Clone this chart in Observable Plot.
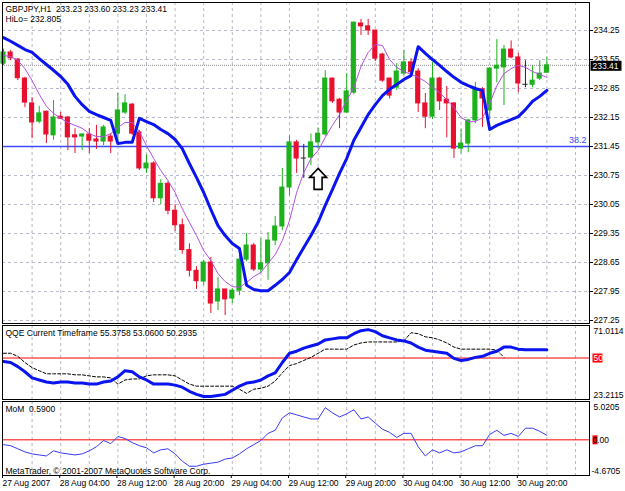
<!DOCTYPE html>
<html><head><meta charset="utf-8">
<script src="https://cdn.jsdelivr.net/npm/d3@7"></script>
<script src="https://cdn.jsdelivr.net/npm/@observablehq/plot@0.6"></script>
<style>
body{margin:0;background:#fff;}
#chart{position:relative;width:625px;height:491px;overflow:hidden;background:#fff;}
#chart svg{position:absolute;left:0;overflow:visible;}
</style></head><body><div id="chart"></div>
<script>
// ---------- data ----------
const symbol = "GBPJPY,H1";
const hiloLabel = "HiLo= 232.805";
const qqeLabel = "QQE Current Timeframe 55.3758 53.0600 50.2935";
const momLabel = "MoM  0.5900";
const copyright = "MetaTrader, \u00a9 2001-2007 MetaQuotes Software Corp.";
const timeLabels = ["27 Aug 2007","28 Aug 04:00","28 Aug 12:00","28 Aug 20:00","29 Aug 04:00","29 Aug 12:00","29 Aug 20:00","30 Aug 04:00","30 Aug 12:00","30 Aug 20:00"];
const timeLabelBars = [0,8,16,24,32,40,48,56,64,72];
const priceTicks = [227.25,227.95,228.65,229.35,230.05,230.75,231.45,232.15,232.85,233.55,234.25];
const qqeTicks = [71.0114, 50, 23.2115];
const momTicks = [5.0205, 0, -4.6705];
const fibLevel = 231.45, fibLabel = "38.2";
const lastPrice = 233.41;
const arrowBar = 44, arrowPrice = 230.67;

const open  = [233.45,233.72,233.55,233.09,232.49,232.05,232.29,231.72,232.17,232.15,
  231.72,231.69,231.74,231.62,231.57,231.69,231.76,232.27,232.46,231.79,
  230.92,231.04,230.20,230.55,229.90,229.55,228.95,228.45,228.19,228.65,
  227.71,228.00,227.78,227.97,228.72,229.06,228.48,228.63,229.18,229.52,
  230.46,231.55,231.16,231.18,231.55,231.74,233.09,232.58,232.27,232.75,
  234.42,234.35,234.25,233.67,233.09,232.87,233.21,233.48,233.26,232.49,
  232.17,233.09,232.58,232.49,231.40,231.52,232.08,232.83,232.32,233.33,
  233.36,233.79,233.60,232.94,232.94,233.09,233.23];
const high  = [233.80,233.77,233.57,233.12,232.63,232.42,232.30,232.56,232.27,232.17,
  231.88,231.76,231.88,231.96,231.96,231.76,232.73,232.70,232.49,231.84,
  231.25,231.08,230.65,230.60,230.05,229.70,229.10,228.55,228.70,228.77,
  228.29,228.00,228.02,228.82,229.35,229.11,229.23,229.37,229.76,230.92,
  231.70,231.60,231.50,231.75,231.90,233.28,233.10,232.61,233.21,234.45,
  234.52,234.52,234.25,233.70,233.10,233.45,233.77,233.57,233.33,232.73,
  233.48,233.12,232.90,232.51,231.86,232.10,233.00,232.87,233.36,234.03,
  233.89,234.00,233.70,233.52,233.40,233.52,233.60];
const low   = [233.40,233.52,233.04,232.39,231.64,232.00,231.52,231.60,232.10,231.35,
  231.28,231.35,231.28,231.38,231.47,231.28,231.59,232.22,231.72,230.87,
  230.80,230.10,230.05,229.80,229.40,228.85,228.30,228.00,228.10,227.42,
  227.49,227.37,227.66,227.85,228.67,228.43,228.38,228.22,229.06,229.42,
  230.27,230.80,230.68,230.99,231.40,231.70,232.49,231.88,232.25,232.70,
  234.13,234.13,233.50,233.00,232.60,232.80,233.16,233.14,232.27,231.88,
  232.10,232.32,231.66,231.16,231.28,231.30,232.00,231.91,232.10,232.99,
  232.44,233.57,232.75,232.87,232.87,233.04,233.23];
const close = [233.72,233.58,233.10,232.51,232.03,232.25,231.74,232.15,232.12,231.67,
  231.67,231.74,231.59,231.57,231.91,231.57,232.32,232.49,231.76,230.92,
  231.04,230.20,230.55,229.90,229.55,228.95,228.45,228.20,228.65,227.66,
  228.00,227.76,227.97,228.72,229.06,228.48,228.63,229.18,229.52,230.46,
  231.55,231.16,231.16,231.55,231.76,233.09,232.54,232.27,232.78,234.44,
  234.35,234.25,233.57,233.04,232.68,233.26,233.48,233.24,232.49,232.17,
  233.09,232.54,232.49,231.40,231.52,232.08,232.83,232.61,233.33,233.40,
  233.79,233.60,232.97,232.94,233.04,233.21,233.41];
const hilo  = [234.08,233.99,233.89,233.79,233.72,233.57,233.43,233.29,233.14,232.95,
  232.66,232.46,232.30,232.22,232.15,232.08,231.52,231.55,231.55,232.13,
  232.05,231.98,231.86,231.76,231.62,231.40,231.04,230.70,230.34,229.93,
  229.54,229.30,229.11,228.99,228.10,228.00,227.97,227.97,228.10,228.24,
  228.41,228.72,229.01,229.30,229.62,230.03,230.41,230.80,231.16,231.60,
  231.91,232.22,232.46,232.68,232.83,232.95,233.07,233.16,233.86,233.70,
  233.55,233.41,233.26,233.12,233.00,232.92,232.85,232.80,231.86,231.96,
  232.03,232.10,232.17,232.34,232.54,232.66,232.805];
const ma    = [233.65,233.62,233.53,233.33,233.04,232.71,232.42,232.25,232.13,232.03,
  231.96,231.89,231.76,231.69,231.69,231.76,231.91,232.03,232.03,231.81,
  231.47,231.16,230.87,230.63,230.34,229.95,229.62,229.30,228.94,228.70,
  228.38,228.19,228.07,228.05,228.17,228.31,228.41,228.63,228.84,229.18,
  229.66,230.34,230.82,231.16,231.35,231.67,231.96,232.22,232.56,232.87,
  233.38,233.72,233.91,233.89,233.55,233.36,233.26,233.19,233.12,233.02,
  232.87,232.75,232.58,232.39,232.15,232.05,232.05,232.15,232.49,232.92,
  233.21,233.33,233.41,233.36,233.26,233.19,233.12];
const qqeMain = [47.77,47.11,44.45,41.13,37.15,35.82,34.49,33.83,34.49,34.49,
  33.83,33.83,33.16,33.16,34.49,35.16,37.81,41.79,41.13,37.81,
  35.82,33.16,33.16,33.16,32.50,31.17,28.51,26.52,25.19,25.19,
  25.86,26.52,29.17,31.83,33.83,34.49,35.82,38.48,40.47,47.11,
  53.08,54.41,56.40,57.73,59.06,61.71,62.38,63.04,63.04,65.70,
  67.69,68.35,67.03,64.37,63.04,61.71,61.05,59.72,57.07,55.08,
  54.41,53.75,53.08,49.76,48.43,49.10,50.43,51.09,53.08,54.41,
  57.07,57.07,55.74,55.41,55.38,55.38,55.38];
const qqeSignal = [53.08,53.08,51.09,47.11,43.79,41.79,39.80,39.80,39.80,39.80,
  39.14,39.14,38.48,37.81,37.81,37.15,33.16,35.82,36.48,36.48,
  38.48,39.14,39.14,39.14,38.48,35.82,33.16,31.83,31.83,31.83,
  31.83,31.83,31.83,29.84,27.18,29.84,30.51,31.83,35.16,40.47,
  45.11,46.44,48.43,50.43,53.08,55.74,55.74,55.74,55.74,58.39,
  59.72,60.39,60.39,60.39,60.39,60.39,61.05,66.36,65.70,63.71,
  63.04,61.71,59.72,57.07,55.74,55.74,55.74,55.74,55.74,55.08,
  50.43];
const mom = [-0.63,-0.77,-1.17,-1.58,-1.84,-1.98,-2.11,-1.44,-1.71,-1.84,
  -1.98,-1.84,-1.44,-0.90,-0.09,-0.50,0.44,0.17,-0.36,-0.77,
  -1.04,-1.71,-1.31,-1.17,-1.84,-2.79,-3.46,-3.46,-3.19,-3.06,
  -2.92,-2.52,-2.38,-1.84,-1.17,-0.63,-0.09,0.85,1.25,2.87,
  3.54,3.27,3.00,2.73,2.73,4.21,3.54,3.00,3.41,3.94,
  2.73,3.00,2.19,1.39,0.98,0.31,0.85,0.85,-0.90,-2.11,
  -1.31,-1.71,-1.31,-1.71,-1.58,-1.17,-0.77,-0.77,0.71,1.25,
  0.59,0.85,0.44,1.52,1.52,1.12,0.59];

// ---------- styling ----------
const W = 625;
const FONT = "'Liberation Sans', Arial, sans-serif";
const FS = 8.5;
const GREEN = "#1db21d", RED = "#e8102e", BLUE = "#0a14f0", PURPLE = "#b54fe0";
const GRID = "#b8b8c8", FIB = "#3b4cff";
const xDomain = [-0.14, 81.96];
const gridBars = d3.range(4, 82, 4);
const last = open.length - 1;

const bars = open.map((o, i) => ({
  i, o, h: high[i], l: low[i], c: close[i],
  col: close[i] > o ? GREEN : close[i] < o ? RED : "#222"
}));
const series = arr => arr.map((v, i) => ({i, v}));

const boxSymbol = (x0, y0, w, h) => ({draw(ctx) { ctx.rect(x0, y0, w, h); }});
const arrowSymbol = {draw(ctx) {
  ctx.moveTo(0, -10.5); ctx.lineTo(8.5, -1.5); ctx.lineTo(4, -1.5); ctx.lineTo(4, 10.5);
  ctx.lineTo(-4, 10.5); ctx.lineTo(-4, -1.5); ctx.lineTo(-8.5, -1.5); ctx.closePath();
}};

const common = {
  width: W, marginLeft: 2, marginRight: 36,
  x: {domain: xDomain, axis: null, label: null},
  color: {type: "identity"},
  style: {fontFamily: FONT, fontSize: FS + "px", background: "none", color: "#000"}
};
const vgrid = () => Plot.ruleX(gridBars, {stroke: GRID, strokeDasharray: "3,3", strokeWidth: 1});

// ---------- main pane ----------
const header = `${symbol}  ${open[last].toFixed(2)} ${high[last].toFixed(2)} ${low[last].toFixed(2)} ${close[last].toFixed(2)}\n${hiloLabel}`;
const main = Plot.plot({
  ...common, height: 324, marginTop: 2, marginBottom: 1,
  y: {domain: [227.178, 234.926], axis: null, label: null},
  marks: [
    vgrid(),
    Plot.ruleY(priceTicks, {stroke: GRID, strokeDasharray: "3,3"}),
    Plot.ruleY([lastPrice], {stroke: "#8a8a8a", strokeDasharray: "1,1"}),
    Plot.ruleY([fibLevel], {stroke: FIB, strokeWidth: 1.5}),
    Plot.text([fibLabel], {x: () => xDomain[1], y: () => fibLevel, text: d => d, textAnchor: "end", dx: -3, dy: -6, fill: FIB, fontSize: FS + 0.5}),
    Plot.ruleX(bars, {x: "i", y1: "l", y2: "h", stroke: "col", strokeWidth: 1}),
    Plot.rect(bars, {x1: d => d.i - 0.36, x2: d => d.i + 0.36, y1: "o", y2: "c", fill: "col", insetTop: -0.5, insetBottom: -0.5}),
    Plot.line(series(ma), {x: "i", y: "v", stroke: PURPLE, strokeWidth: 1}),
    Plot.line(series(hilo), {x: "i", y: "v", stroke: BLUE, strokeWidth: 3}),
    Plot.dot([{x: arrowBar, y: arrowPrice}], {x: "x", y: "y", symbol: arrowSymbol, r: 10, fill: "white", stroke: "black", strokeWidth: 1.6}),
    Plot.axisY(priceTicks, {anchor: "right", label: null, tickSize: 3, tickPadding: 1, tickFormat: d3.format(".2f"), fontSize: FS}),
    Plot.dot([lastPrice], {x: () => xDomain[1], y: d => d, symbol: boxSymbol(1, -4.5, 31, 10), fill: "black", stroke: "none"}),
    Plot.text([lastPrice], {x: () => xDomain[1], y: d => d, text: d => d.toFixed(2), textAnchor: "start", dx: 3, dy: 0.5, fill: "white", fontSize: FS}),
    Plot.frame({stroke: "#000"}),
    Plot.text([header], {frameAnchor: "top-left", dx: 3, dy: 2, lineAnchor: "top", lineHeight: 1.18, fill: "#000", fontSize: FS})
  ]
});

// ---------- QQE pane ----------
const qqe = Plot.plot({
  ...common, height: 76, marginTop: 1, marginBottom: 1,
  y: {domain: [23.2115, 71.0114], axis: null, label: null},
  marks: [
    vgrid(),
    Plot.ruleY([50], {stroke: "#ff0000", strokeWidth: 1}),
    Plot.line(series(qqeSignal), {x: "i", y: "v", stroke: "#000", strokeWidth: 1, strokeDasharray: "3,2"}),
    Plot.line(series(qqeMain), {x: "i", y: "v", stroke: BLUE, strokeWidth: 3}),
    Plot.dot([50], {x: () => xDomain[1], y: d => d, symbol: boxSymbol(3, -4.5, 10, 9), fill: "#ff0000", stroke: "none"}),
    Plot.text([qqeTicks[0]], {x: () => xDomain[1], y: d => d, text: d => d.toFixed(4), textAnchor: "start", lineAnchor: "top", dx: 4, dy: 2, fill: "#000"}),
    Plot.text([qqeTicks[1]], {x: () => xDomain[1], y: d => d, text: d => String(d), textAnchor: "start", dx: 4, fill: "#fff"}),
    Plot.text([qqeTicks[2]], {x: () => xDomain[1], y: d => d, text: d => d.toFixed(4), textAnchor: "start", lineAnchor: "bottom", dx: 4, dy: -2, fill: "#000"}),
    Plot.frame({stroke: "#000"}),
    Plot.text([qqeLabel], {frameAnchor: "top-left", dx: 3, dy: 4, lineAnchor: "top", fill: "#000"})
  ]
});

// ---------- MoM pane ----------
const labelByBar = new Map(timeLabelBars.map((b, k) => [b, timeLabels[k]]));
const momPlot = Plot.plot({
  ...common, height: 91, marginTop: 1, marginBottom: 16,
  y: {domain: [-4.6705, 5.0205], axis: null, label: null},
  marks: [
    vgrid(),
    Plot.ruleY([0], {stroke: "#ff0000", strokeWidth: 1}),
    Plot.line(series(mom), {x: "i", y: "v", stroke: "#3a3af5", strokeWidth: 1}),
    Plot.dot([0], {x: () => xDomain[1], y: d => d, symbol: boxSymbol(3, -4.5, 5, 9), fill: "#ff0000", stroke: "none"}),
    Plot.text([momTicks[0]], {x: () => xDomain[1], y: d => d, text: d => d.toFixed(4), textAnchor: "start", lineAnchor: "top", dx: 4, dy: 2, fill: "#000"}),
    Plot.text([momTicks[1]], {x: () => xDomain[1], y: d => d, text: d => d.toFixed(2), textAnchor: "start", dx: 3, fill: "#000"}),
    Plot.text([momTicks[2]], {x: () => xDomain[1], y: d => d, text: d => d.toFixed(4), textAnchor: "start", lineAnchor: "bottom", dx: 2, dy: -2, fill: "#000"}),
    Plot.axisX(timeLabelBars, {anchor: "bottom", label: null, tickSize: 3, tickPadding: 1, tickFormat: d => labelByBar.get(d), textAnchor: "start", dx: -1, fontSize: FS}),
    Plot.frame({stroke: "#000"}),
    Plot.text([momLabel], {frameAnchor: "top-left", dx: 3, dy: 4, lineAnchor: "top", fill: "#000"}),
    Plot.text([copyright], {frameAnchor: "bottom-left", dx: 3, dy: -2, lineAnchor: "bottom", fill: "#000"})
  ]
});

const host = document.getElementById("chart");
[[main, 0], [qqe, 324], [momPlot, 400]].forEach(([svg, top]) => {
  svg.style.top = top + "px";
  host.appendChild(svg);
});
</script></body></html>
